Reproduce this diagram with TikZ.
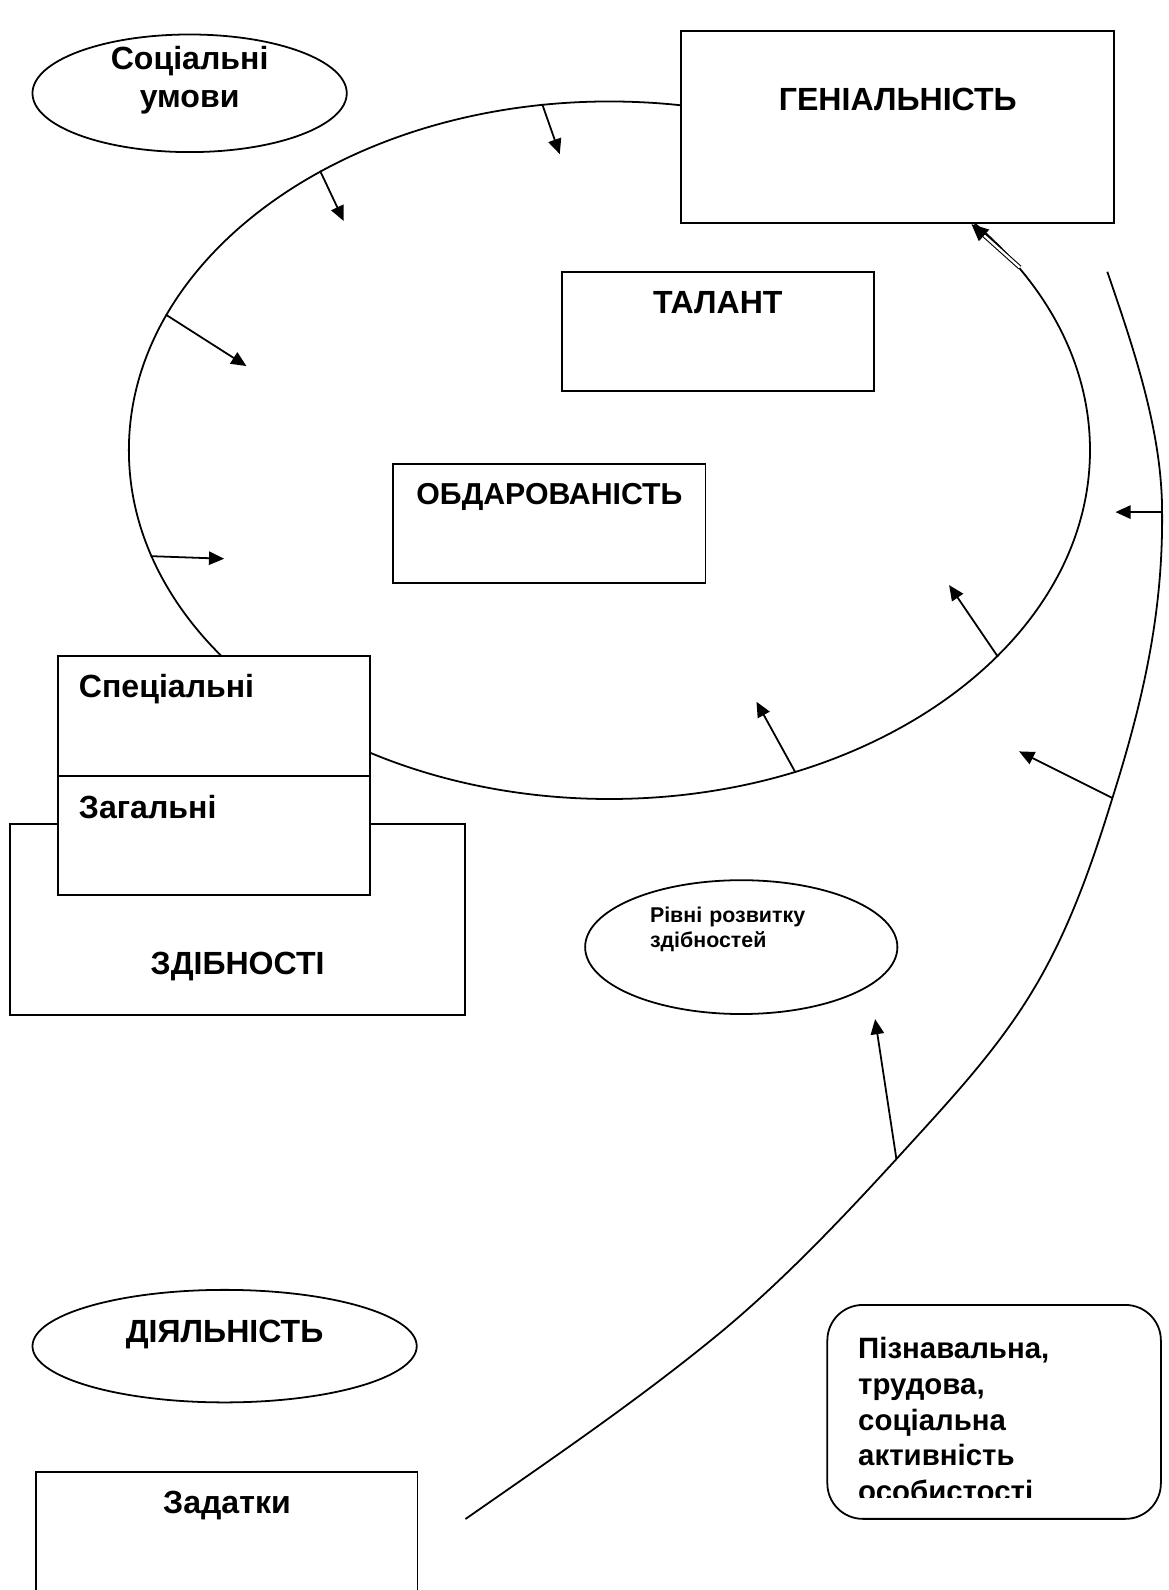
\documentclass[tikz,border=0pt]{standalone}
\usepackage{fontspec}
\setmainfont{Liberation Sans}
\usetikzlibrary{arrows.meta,shapes.geometric,calc}
\newcommand{\bigtxt}{\bfseries\fontsize{18}{21}\selectfont}
\newcommand{\midtxt}{\bfseries\fontsize{16.5}{20}\selectfont}
\newcommand{\smalltxt}{\bfseries\fontsize{12}{13.7}\selectfont}
\tikzset{
  box/.style={rectangle, draw=black, fill=white, line width=1pt, inner sep=0pt, font=\bigtxt},
  oval/.style={ellipse, draw=black, fill=white, line width=1pt, inner sep=0pt, font=\bigtxt},
  flow/.style={-{Triangle[length=8.5pt,width=7.5pt]}, draw=black, line width=1pt},
  bigflow/.style={-{Triangle[length=9.5pt,width=8.5pt]}, draw=black, line width=1pt},
  dshaft/.style={draw=black, line width=0.6pt, double=white, double distance=1.3pt, shorten >=5pt},
  curve/.style={draw=black, line width=1pt},
}

\begin{document}
\begin{tikzpicture}[x=0.02cm, y=-0.02cm]
\useasboundingbox (0,0) rectangle (1152,1568);
\clip (0,0) rectangle (1152,1568);

\node[oval, fill=none, minimum width=18.96cm, minimum height=13.76cm] (ring) at (601,444) {};

\coordinate (s0) at (1092,268);
\coordinate (s1) at (1146,505);
\coordinate (s2) at (1097,787);
\coordinate (s3) at (884,1143);
\coordinate (s4) at (459,1498);
\draw[curve] (s0) .. controls (1118,344) and (1146,425) .. (s1)
  .. controls (1147,605) and (1127,692) .. (s2)
  .. controls (1077,852) and (1054,918) .. (1019,976)
  .. controls (982,1038) and (932,1090) .. (s3)
  .. controls (830,1202) and (774,1261) .. (713,1312)
  .. controls (632,1379) and (545,1438) .. (s4);

\coordinate (t1) at (552,152);
\coordinate (t2) at (339,218);
\coordinate (t3) at (243,361);
\coordinate (t4) at (221,551);
\coordinate (t5) at (936,577);
\coordinate (t6) at (746,692);
\coordinate (t7) at (1100,505);
\coordinate (t8) at (1005,741);
\coordinate (t9) at (863,1005);
\coordinate (t10) at (958,221);

\draw[flow] (ring.101.8) -- (t1);
\draw[flow] (ring.136.2) -- (t2);
\draw[flow] (ring.163.2) -- (t3);
\draw[flow] (ring.193.3) -- (t4);
\draw[flow] (ring.332.5) -- (t5);
\draw[flow] (ring.300.9) -- (t6);
\draw[flow] (s1) -- (t7);
\draw[flow] (s2) -- (t8);
\draw[flow] (s3) -- (t9);
\draw[dshaft] (ring.24) -- (t10);
\draw[bigflow] ($(ring.24)!0.75!(t10)$) -- (t10);

\node[oval, minimum width=6.2cm, minimum height=2.32cm, text width=4cm, align=center,
      text height=0.3cm, text depth=1.22cm] (soc) at (187,92) {Соціальні\\умови};
\node[box, anchor=north west, minimum width=8.54cm, text height=1.56cm, text depth=2.22cm] (gen) at (671,30) {ГЕНІАЛЬНІСТЬ};
\node[box, anchor=north west, minimum width=6.16cm, text height=0.82cm, text depth=1.54cm] (tal) at (553,267) {ТАЛАНТ};
\node[box, anchor=north west, minimum width=6.16cm, font=\bfseries\fontsize{17}{20}\selectfont,
      text height=0.80cm, text depth=1.54cm] (obd) at (387,457) {ОБДАРОВАНІСТЬ};
\node[box, anchor=north west, minimum width=8.98cm, text height=2.96cm, text depth=0.80cm] (zdib) at (9,812) {ЗДІБНОСТІ};
\node[box, anchor=north west, text width=5.32cm, inner xsep=0.42cm, align=left, text height=0.82cm, text depth=1.54cm] (spec) at (56,646) {Спеціальні};
\node[box, anchor=north west, text width=5.32cm, inner xsep=0.42cm, align=left, text height=0.84cm, text depth=1.52cm] (zag) at (56,764) {Загальні};
\node[oval, minimum width=6.16cm, minimum height=2.64cm, text width=3.6cm, align=left,
      font=\smalltxt, text height=0.28cm, text depth=1.24cm] (riv) at (731,934) {Рівні розвитку\\здібностей};
\node[oval, minimum width=7.58cm, minimum height=2.22cm, text height=0.45cm, text depth=0.59cm] (dial) at (221.5,1327.5) {ДІЯЛЬНІСТЬ};
\node[box, anchor=north west, minimum width=7.52cm, text height=0.82cm, text depth=2.18cm] (zad) at (35,1451) {Задатки};
\node[box, anchor=north west, rounded corners=0.7cm, minimum width=6.58cm, minimum height=4.22cm] (act) at (815,1286) {};
\begin{scope}
\clip (815,1286) rectangle (1144,1477);
\node[anchor=base west, inner sep=0pt, font=\midtxt] (actt) at (846,1340)
  {\parbox[t]{6cm}{\raggedright Пізнавальна,\\трудова,\\соціальна\\активність\\особистості}};
\end{scope}
\end{tikzpicture}
\end{document}
